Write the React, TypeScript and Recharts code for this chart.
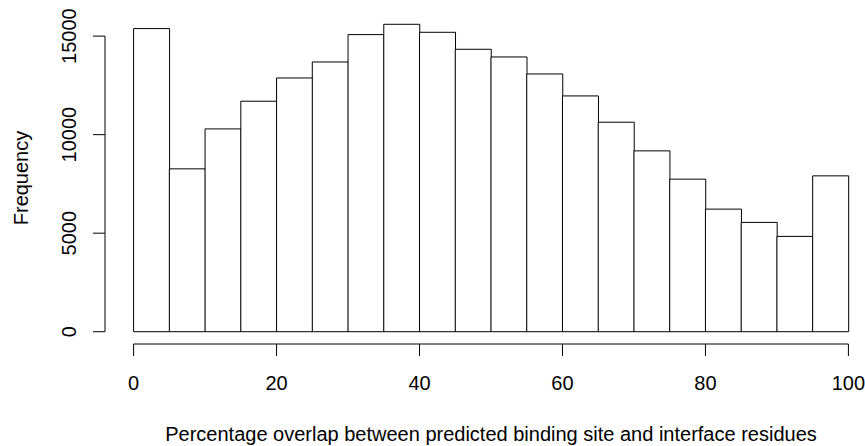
import { Bar, BarChart, Label, XAxis, YAxis } from 'recharts';

// histogram bins (percent overlap, width 5) and their counts
const bins = ['0-5', '5-10', '10-15', '15-20', '20-25', '25-30', '30-35', '35-40', '40-45', '45-50',
  '50-55', '55-60', '60-65', '65-70', '70-75', '75-80', '80-85', '85-90', '90-95', '95-100'];
const binStarts = [0, 5, 10, 15, 20, 25, 30, 35, 40, 45, 50, 55, 60, 65, 70, 75, 80, 85, 90, 95];
const BIN_WIDTH = 5;
const counts = [15382, 8264, 10291, 11696, 12877, 13688, 15077, 15600, 15194, 14332,
  13942, 13080, 11965, 10631, 9176, 7741, 6221, 5546, 4837, 7909];
const xTicks = [0, 20, 40, 60, 80, 100];
const yTicks = [0, 5000, 10000, 15000];

const data = bins.map((bin, i) => ({ bin, start: binStarts[i], count: counts[i] }));

// base-graphics style layout: data range padded by 4% on each side
const X_MIN = binStarts[0];
const X_MAX = binStarts[binStarts.length - 1] + BIN_WIDTH;
const xPad = (X_MAX - X_MIN) * 0.04;
const yMax = Math.max(...counts);
const yPad = yMax * 0.04;
const yDomain = [-yPad, yMax + yPad];

const W = 880;
const H = 446;
const LEFT = 105;
const TOP = 12;
const RIGHT = 877;
const BOTTOM = 344;
const plotW = RIGHT - LEFT;
const plotH = BOTTOM - TOP;
const pxPerX = plotW / (X_MAX - X_MIN + 2 * xPad);
const pxPerY = plotH / (yDomain[1] - yDomain[0]);
const binPad = xPad * pxPerX;
const bandW = BIN_WIDTH * pxPerX;

const FONT = '"Liberation Sans", Arial, Helvetica, sans-serif';
const FS = 20;
const INK = '#000';
const TICK = 12;

function xMark(x: number, y: number, value: number) {
  return (
    <g key={value}>
      <line x1={x} y1={y} x2={x} y2={y + TICK} stroke={INK} />
      <text x={x} y={y + 46} textAnchor="middle" fontFamily={FONT} fontSize={FS} fill={INK}>
        {value}
      </text>
    </g>
  );
}

// one call per bin; ticks sit on bin edges rather than bin centres
function XTick(props: any) {
  const { x, y, index } = props;
  const left = x - bandW / 2;
  const start = binStarts[index];
  const end = start + BIN_WIDTH;
  const marks = [];
  if (index === 0) {
    const span = (xTicks[xTicks.length - 1] - xTicks[0]) * pxPerX;
    const x0 = left + (xTicks[0] - start) * pxPerX;
    marks.push(<line key="axis" x1={x0} y1={y} x2={x0 + span} y2={y} stroke={INK} />);
  }
  if (xTicks.includes(start)) marks.push(xMark(left, y, start));
  if (index === binStarts.length - 1 && xTicks.includes(end)) marks.push(xMark(left + bandW, y, end));
  return <g>{marks}</g>;
}

function YTick(props: any) {
  const { x, y, payload, index } = props;
  const last = index === yTicks.length - 1;
  const step = last ? 0 : (yTicks[index + 1] - yTicks[index]) * pxPerY;
  const lx = x - 29;
  return (
    <g>
      {!last && <line x1={x} y1={y} x2={x} y2={y - step} stroke={INK} />}
      <line x1={x - TICK} y1={y} x2={x} y2={y} stroke={INK} />
      <text x={lx} y={y} transform={`rotate(-90 ${lx} ${y})`} textAnchor="middle"
        fontFamily={FONT} fontSize={FS} fill={INK}>
        {payload.value}
      </text>
    </g>
  );
}

export default function App() {
  return (
    <div style={{ position: 'absolute', left: 0, top: 0, width: 865, height: 446, overflow: 'hidden', background: '#fff' }}>
      <BarChart width={W} height={H} data={data} barCategoryGap={0}
        margin={{ top: TOP, right: W - RIGHT, bottom: 0, left: 0 }}>
        <XAxis dataKey="bin" type="category" padding={{ left: binPad, right: binPad }}
          height={H - BOTTOM} axisLine={false} tickLine={false} tickSize={0} tickMargin={0}
          tick={(p: any) => <XTick {...p} />} interval={0}>
          <Label content={(p: any) => {
            const vb = p.viewBox;
            return (
              <text x={LEFT + plotW / 2} y={vb.y + 97} textAnchor="middle"
                fontFamily={FONT} fontSize={FS} fill={INK}>
                Percentage overlap between predicted binding site and interface residues
              </text>
            );
          }} />
        </XAxis>
        <YAxis type="number" domain={yDomain} allowDataOverflow ticks={yTicks} width={LEFT}
          axisLine={false} tickLine={false} tickSize={0} tickMargin={0}
          tick={(p: any) => <YTick {...p} />} interval={0}>
          <Label content={(p: any) => {
            const cy = TOP + plotH / 2;
            return (
              <text x={28} y={cy} transform={`rotate(-90 28 ${cy})`} textAnchor="middle"
                fontFamily={FONT} fontSize={FS} fill={INK}>
                Frequency
              </text>
            );
          }} />
        </YAxis>
        <Bar dataKey="count" fill="#fff" stroke={INK} strokeWidth={1} isAnimationActive={false} />
      </BarChart>
    </div>
  );
}
